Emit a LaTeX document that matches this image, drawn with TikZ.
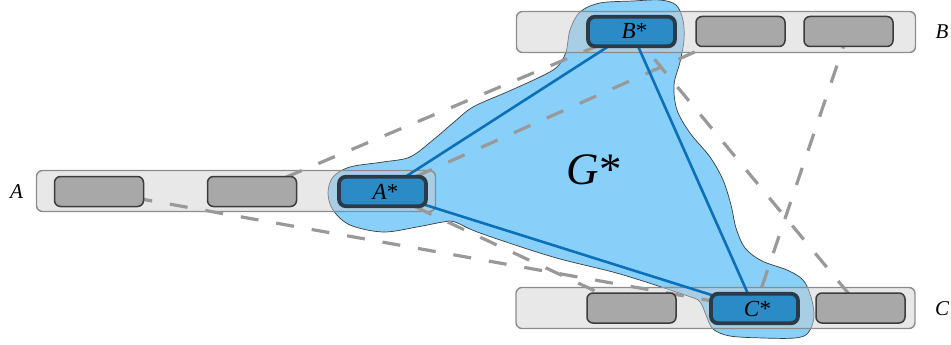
\documentclass[tikz,border=0pt]{standalone}
\usepackage{fontspec}
\setmainfont{Liberation Serif}
\definecolor{blobfill}{RGB}{136,208,250}
\definecolor{blobedge}{RGB}{60,60,60}
\definecolor{lanefill}{RGB}{205,205,205}
\definecolor{laneedge}{RGB}{140,140,140}
\definecolor{itemfill}{RGB}{168,168,168}
\definecolor{itemedge}{RGB}{60,60,60}
\definecolor{pickfill}{RGB}{43,139,198}
\definecolor{pickedge}{RGB}{44,58,71}
\definecolor{linkblue}{RGB}{12,112,184}
\definecolor{dashgray}{RGB}{153,153,153}
\pgfdeclarelayer{blobl}
\pgfdeclarelayer{lanel}
\pgfdeclarelayer{edgel}
\pgfsetlayers{blobl,lanel,edgel,main}
\begin{document}
\begin{tikzpicture}[x=1pt,y=-1pt,
  lane/.style={draw=laneedge, line width=1.4pt, fill=lanefill, fill opacity=0.46,
    rounded corners=6pt, minimum width=399pt, minimum height=41pt, inner sep=0pt},
  item/.style={draw=itemedge, line width=1.5pt, fill=itemfill, rounded corners=6pt,
    minimum width=89pt, minimum height=30pt, inner sep=0pt},
  pick/.style={draw=pickedge, line width=3.8pt, fill=pickfill, rounded corners=7pt,
    minimum width=87pt, minimum height=29.5pt, inner sep=0pt},
  picktext/.style={font=\fontsize{23}{26}\selectfont, inner sep=0pt, xshift=3pt},
  side/.style={font=\fontsize{21}{24}\selectfont\itshape, inner sep=0pt},
  link/.style={draw=linkblue, line width=2.6pt},
  cand/.style={draw=dashgray, line width=3.2pt, dash pattern=on 18pt off 18pt},
]
\useasboundingbox (0,0) rectangle (951,345);

% the merged region around the three picked items
\begin{pgfonlayer}{blobl}
\draw[draw=blobedge, line width=0.7pt, fill=blobfill]
  plot[smooth cycle, tension=0.55] coordinates {
  (600,3) (633,1) (660,0) (676,5) (683,20) (684,40) (680,62) (674,85)
  (677,110) (690,133) (710,157) (723,180) (731,205) (736,228) (745,248)
  (762,261) (787,270) (803,280) (811,297) (814,317) (808,333) (795,338)
  (763,338) (730,336) (713,329) (706,315) (700,302) (688,296) (620,274)
  (553,257) (480,233) (455,222) (443,222) (417,227) (383,232) (350,225)
  (333,210) (328,193) (333,177) (350,167) (383,162) (410,157) (433,140)
  (453,123) (473,107) (507,92) (540,77) (557,67) (566,52) (570,30) (580,12)};
\end{pgfonlayer}

% lanes
\begin{pgfonlayer}{lanel}
\node[lane] (laneA) at (236,191) {};
\node[lane] (laneB) at (716,32) {};
\node[lane] (laneC) at (715.5,308) {};
\end{pgfonlayer}

% items in each lane
\node[item] (a1) at (99,191.5) {};
\node[item] (a2) at (252,191.5) {};
\node[pick] (as) at (382.5,191.5) {};
\node[pick] (bs) at (631.5,31.5) {};
\node[item] (b2) at (740.5,31.5) {};
\node[item] (b3) at (848.5,31.5) {};
\node[item] (c1) at (631.5,308) {};
\node[pick] (cs) at (754.5,308.5) {};
\node[item] (c3) at (860.5,308) {};
\node[picktext] (ast) at (as.center) {\textit{A}*};
\node[picktext] (bst) at (bs.center) {\textit{B}*};
\node[picktext] (cst) at (cs.center) {\textit{C}*};

% connections
\begin{pgfonlayer}{edgel}
\draw[cand] (a2.center) -- (bs.center);
\draw[cand] (as.center) -- (b2.center);
\draw[cand] (bs.center) -- (c3.center);
\draw[cand] (b3.center) -- (cs.center);
\draw[cand] (a1.center) -- (cs.center);
\draw[cand] (as.center) -- (c1.center);
\draw[link] (as.center) -- (bs.center);
\draw[link] (as.center) -- (cs.center);
\draw[link] (bs.center) -- (cs.center);
\end{pgfonlayer}

% labels
\node[side] (labA) at (16.5,192) {A};
\node[side] (labB) at (942,32) {B};
\node[side] (labC) at (942,309) {C};
\node[font=\fontsize{45}{48}\selectfont, inner sep=0pt] (gstar) at (594,170) {\textit{G}*};
\end{tikzpicture}
\end{document}
